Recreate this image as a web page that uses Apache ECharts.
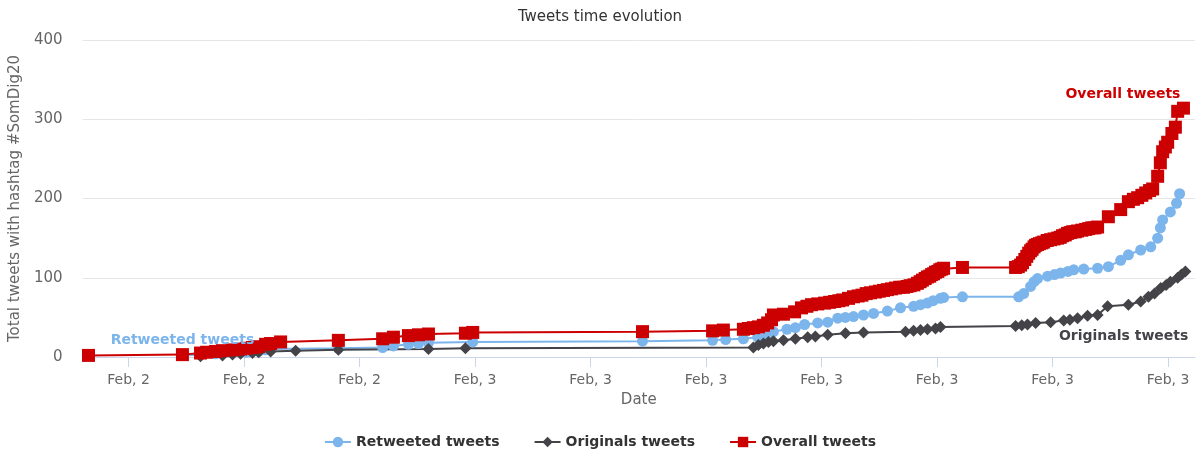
<!DOCTYPE html>
<html>
<head>
<meta charset="utf-8">
<script src="https://cdn.jsdelivr.net/npm/echarts@6/dist/echarts.min.js"></script>
<style>
html,body{margin:0;padding:0;background:#fff;}
#chart{width:1200px;height:460px;}
</style>
</head>
<body>
<div id="chart"></div>
<script>
// Time values are hours since Feb 2, 00:00
var tickHours = [15, 18, 21, 24, 27, 30, 33, 36, 39, 42];

var retweetedHours = [16.40,16.87,17.26,17.70,18.06,18.38,18.56,18.69,20.45,21.60,21.88,22.27,22.53,22.79,23.94,28.35,30.17,30.51,30.97,31.34,31.60,31.75,32.10,32.32,32.56,32.90,33.16,33.42,33.62,33.83,34.09,34.35,34.71,35.05,35.39,35.57,35.75,35.90,36.09,36.17,36.66,38.12,38.25,38.43,38.52,38.61,38.87,39.05,39.21,39.40,39.55,39.81,40.17,40.45,40.77,40.97,41.29,41.55,41.73,41.80,41.86,42.06,42.22,42.30];
var retweetedCounts = [2,3,4,5,6,7,9,10,11,12,14,16,17,18,19,20,21,22,23,25,28,32,35,37,41,43,44,49,50,51,53,55,58,62,64,66,68,71,74,75,76,76,80,89,95,99,102,104,106,108,110,111,112,114,122,129,135,139,150,163,173,183,194,206];

var originalHours = [16.87,17.44,17.70,17.91,18.22,18.38,18.69,19.34,20.45,22.79,23.75,31.23,31.36,31.49,31.62,31.75,32.01,32.32,32.64,32.84,33.16,33.62,34.09,35.18,35.39,35.57,35.75,35.96,36.09,38.04,38.20,38.35,38.56,38.95,39.29,39.45,39.65,39.91,40.17,40.43,40.97,41.29,41.49,41.65,41.81,41.95,42.06,42.25,42.35,42.45];
var originalCounts = [1,2,3,4,5,6,7,8,9,10,11,12,15,17,19,20,21,23,25,26,28,30,31,32,33,34,35,36,38,39,40,41,43,44,46,47,49,52,53,64,66,70,76,80,87,91,95,100,104,108];

var overallHours = [13.96,16.40,16.87,17.03,17.26,17.44,17.70,17.91,18.06,18.22,18.38,18.56,18.69,18.95,20.45,21.60,21.88,22.27,22.53,22.79,23.75,23.94,28.35,30.17,30.45,30.97,31.10,31.23,31.36,31.49,31.60,31.70,31.75,32.01,32.30,32.48,32.62,32.74,32.90,33.08,33.21,33.34,33.45,33.55,33.70,33.83,33.95,34.05,34.16,34.27,34.40,34.50,34.61,34.71,34.82,34.92,35.03,35.13,35.22,35.30,35.40,35.49,35.56,35.62,35.69,35.75,35.81,35.86,35.91,35.96,36.02,36.07,36.12,36.17,36.66,38.04,38.11,38.17,38.22,38.28,38.33,38.38,38.43,38.47,38.52,38.56,38.61,38.66,38.72,38.77,38.86,38.95,39.04,39.13,39.20,39.26,39.33,39.39,39.46,39.52,39.59,39.65,39.76,39.86,39.94,40.02,40.10,40.17,40.45,40.77,40.97,41.10,41.21,41.32,41.42,41.52,41.60,41.73,41.80,41.86,41.93,41.99,42.10,42.19,42.25,42.40];
var overallCounts = [2,3,5,6,7,8,9,10,11,12,13,16,17,19,21,23,25,27,28,29,30,31,32,33,34,35,36,37,38,40,43,47,53,54,57,62,64,66,67,68,69,70,71,72,74,76,77,78,80,81,82,83,84,85,86,87,88,88,89,90,91,93,95,97,99,101,102,104,105,107,108,110,111,112,113,113,114,116,119,123,127,131,134,136,139,141,142,143,144,145,147,148,149,150,151,153,154,156,157,158,158,159,160,161,162,163,163,164,177,186,196,199,201,204,207,210,212,228,245,259,265,271,282,290,310,314];

var seriesNames = ['Retweeted tweets', 'Originals tweets', 'Overall tweets'];
var yTicks = [0, 100, 200, 300, 400];

function pairs(hs, vs) {
  var out = [];
  for (var i = 0; i < hs.length; i++) out.push([hs[i], vs[i]]);
  return out;
}

var labelFont = { fontFamily: 'DejaVu Sans', fontSize: 14, fontWeight: 'bold' };

var retData = pairs(retweetedHours, retweetedCounts);
retData[0] = { value: retData[0], label: Object.assign({ show: true, formatter: seriesNames[0], position: 'top', align: 'center', color: '#7cb5ec', offset: [0, 2] }, labelFont) };

var origData = pairs(originalHours, originalCounts);
var oi = origData.length - 1;
origData[oi] = { value: origData[oi], label: Object.assign({ show: true, formatter: seriesNames[1], position: 'bottom', align: 'right', color: '#434348', offset: [3, 47] }, labelFont) };

var overData = pairs(overallHours, overallCounts);
var vi = overData.length - 1;
overData[vi] = { value: overData[vi], label: Object.assign({ show: true, formatter: seriesNames[2], position: 'top', align: 'right', color: '#cc0000', offset: [-3, 5] }, labelFont) };

var chart = echarts.init(document.getElementById('chart'), null, { renderer: 'canvas' });
var font = 'DejaVu Sans';
chart.setOption({
  animation: false,
  textStyle: { fontFamily: font },
  title: {
    text: 'Tweets time evolution',
    left: 'center', top: 5,
    textStyle: { fontFamily: font, fontSize: 15, fontWeight: 'normal', color: '#333333' }
  },
  legend: {
    bottom: 6, left: 'center',
    itemGap: 34, itemWidth: 26, itemHeight: 13,
    textStyle: { fontFamily: font, fontSize: 14, fontWeight: 'bold', color: '#333333' },
    data: seriesNames
  },
  grid: { left: 82, right: 5, top: 40, bottom: 103, containLabel: false },
  xAxis: {
    type: 'value',
    min: 13.805, max: 42.70,
    name: 'Date', nameLocation: 'middle', nameGap: 36,
    nameTextStyle: { fontFamily: font, fontSize: 15, color: '#666666' },
    axisLine: { show: true, lineStyle: { color: '#ccd6eb', width: 1 } },
    axisTick: { show: true, length: 10, customValues: tickHours, lineStyle: { color: '#ccd6eb' } },
    axisLabel: {
      customValues: tickHours, margin: 16,
      fontFamily: font, fontSize: 14, color: '#666666',
      formatter: function (v) { return 'Feb, ' + (2 + Math.floor(v / 24)); }
    },
    splitLine: { show: false }
  },
  yAxis: {
    type: 'value', min: 0, max: 400, interval: 100,
    name: 'Total tweets with hashtag #SomDig20', nameLocation: 'middle', nameGap: 57,
    nameTextStyle: { fontFamily: font, fontSize: 15, color: '#666666' },
    axisLine: { show: false }, axisTick: { show: false },
    axisLabel: { fontFamily: font, fontSize: 15, color: '#666666', margin: 20 },
    splitLine: { lineStyle: { color: '#e6e6e6', width: 1 } }
  },
  series: [
    { name: seriesNames[0], type: 'line', data: retData, symbol: 'circle', symbolSize: 11, showAllSymbol: true,
      lineStyle: { width: 2, color: '#7cb5ec' }, itemStyle: { color: '#7cb5ec' } },
    { name: seriesNames[1], type: 'line', data: origData, symbol: 'diamond', symbolSize: 12, showAllSymbol: true,
      lineStyle: { width: 2, color: '#434348' }, itemStyle: { color: '#434348' } },
    { name: seriesNames[2], type: 'line', data: overData, symbol: 'rect', symbolSize: 13, showAllSymbol: true,
      lineStyle: { width: 2, color: '#cc0000' }, itemStyle: { color: '#cc0000' } }
  ]
});
</script>
</body>
</html>
